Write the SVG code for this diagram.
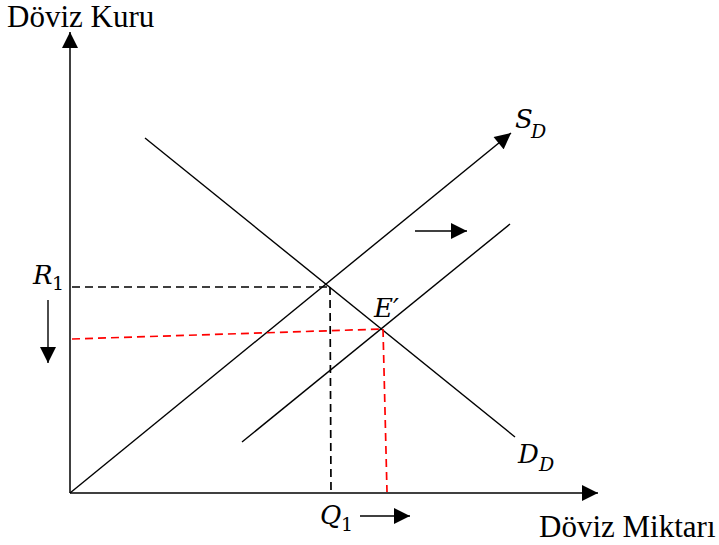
<svg xmlns="http://www.w3.org/2000/svg" width="719" height="545" viewBox="0 0 719 545">
<style>
.ax{stroke:#000;stroke-width:1.5;fill:none}
.ln{stroke:#000;stroke-width:1.4;fill:none}
.bd{stroke:#000;stroke-width:1.7;stroke-dasharray:8,5;fill:none}
.rd{stroke:#ff0000;stroke-width:1.7;stroke-dasharray:8,5;fill:none}
.t{font-family:"Liberation Serif",serif;font-size:31px;fill:#000}
.m{font-family:"DejaVu Serif",serif;font-style:italic;font-size:26px;fill:#000}
.ms{font-family:"DejaVu Serif",serif;font-style:italic;font-size:19px;fill:#000}
.s{font-family:"DejaVu Serif",serif;font-size:19px;fill:#000}
</style>
<defs>
<marker id="ah" viewBox="0 0 10 10" refX="10" refY="5" markerWidth="18" markerHeight="16" markerUnits="userSpaceOnUse" orient="auto"><path d="M0,0 L10,5 L0,10 z" fill="#000"/></marker>
</defs>
<g id="axes">
<line class="ax" x1="70" y1="493" x2="70" y2="32" marker-end="url(#ah)"/>
<line class="ax" x1="70" y1="493" x2="598" y2="493" marker-end="url(#ah)"/>
</g>
<g id="connectors">
<line class="ln" x1="70" y1="493" x2="511" y2="133" marker-end="url(#ah)"/>
<line class="ln" x1="145" y1="138" x2="515" y2="437"/>
<line class="ln" x1="242" y1="442" x2="510" y2="224"/>
<line class="bd" x1="72" y1="287" x2="330" y2="287"/>
<line class="bd" x1="330" y1="287" x2="331" y2="492"/>
<line class="rd" x1="72" y1="339" x2="383" y2="329"/>
<line class="rd" x1="383" y1="329" x2="387" y2="492"/>
<line class="ln" x1="48" y1="300" x2="48" y2="363" marker-end="url(#ah)"/>
<line class="ln" x1="415" y1="231" x2="467" y2="231" marker-end="url(#ah)"/>
<line class="ln" x1="360" y1="516" x2="410" y2="516" marker-end="url(#ah)"/>
</g>
<g id="label-y"><text class="t" x="7" y="27">Döviz Kuru</text></g>
<g id="label-x"><text class="t" x="539" y="537">Döviz Miktarı</text></g>
<g id="label-sd"><text class="m" x="515" y="128">S</text><text class="ms" x="531" y="138">D</text></g>
<g id="label-dd"><text class="m" x="518" y="463">D</text><text class="ms" x="539" y="471">D</text></g>
<g id="label-r1"><text class="m" x="33" y="284">R</text><text class="s" x="52" y="290">1</text></g>
<g id="label-e"><text class="m" x="374" y="317">E′</text></g>
<g id="label-q1"><text class="m" x="320" y="524">Q</text><text class="s" x="341" y="531">1</text></g>
</svg>
